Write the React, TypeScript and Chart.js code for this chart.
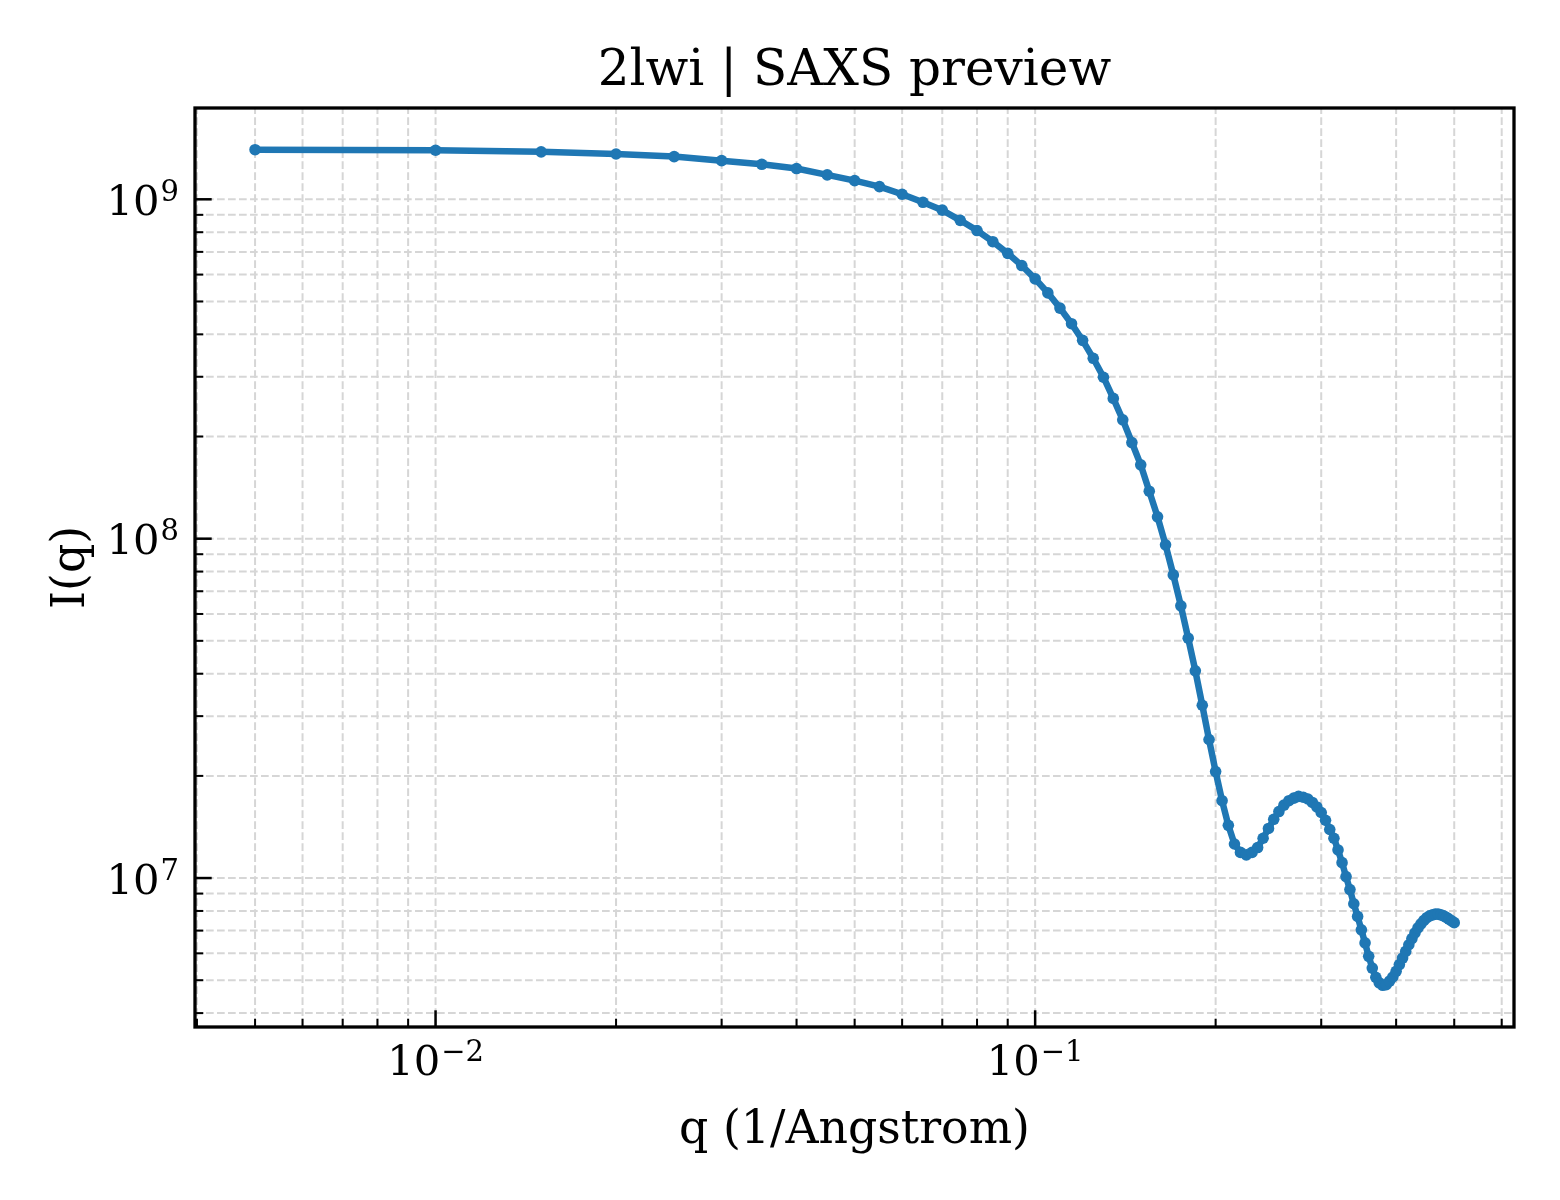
import React, { useEffect, useRef } from 'react';
import Chart from 'chart.js/auto';

// q values (1/Angstrom)
const qValues = [
	0.005, 0.01, 0.015, 0.02, 0.025, 0.03, 0.035, 0.04, 0.045, 0.05,
	0.055, 0.06, 0.065, 0.07, 0.075, 0.08, 0.085, 0.09, 0.095, 0.1,
	0.105, 0.11, 0.115, 0.12, 0.125, 0.13, 0.135, 0.14, 0.145, 0.15,
	0.155, 0.16, 0.165, 0.17, 0.175, 0.18, 0.185, 0.19, 0.195, 0.2,
	0.205, 0.21, 0.215, 0.22, 0.225, 0.23, 0.235, 0.24, 0.245, 0.25,
	0.255, 0.26, 0.265, 0.27, 0.275, 0.28, 0.285, 0.29, 0.295, 0.3,
	0.305, 0.31, 0.315, 0.32, 0.325, 0.33, 0.335, 0.34, 0.345, 0.35,
	0.355, 0.36, 0.365, 0.37, 0.375, 0.38, 0.385, 0.39, 0.395, 0.4,
	0.405, 0.41, 0.415, 0.42, 0.425, 0.43, 0.435, 0.44, 0.445, 0.45,
	0.455, 0.46, 0.465, 0.47, 0.475, 0.48, 0.485, 0.49, 0.495, 0.5
];

// I(q) intensities
const intensity = [
	1.40e9, 1.395e9, 1.38e9, 1.36e9, 1.336e9, 1.30e9, 1.268e9, 1.232e9, 1.18e9, 1.135e9,
	1.09e9, 1.035e9, 9.8e8, 9.29e8, 8.67e8, 8.09e8, 7.5e8, 6.93e8, 6.38e8, 5.83e8,
	5.3e8, 4.78e8, 4.3e8, 3.84e8, 3.4e8, 2.99e8, 2.59e8, 2.24e8, 1.92e8, 1.65e8,
	1.38e8, 1.16e8, 9.59e7, 7.82e7, 6.34e7, 5.09e7, 4.08e7, 3.23e7, 2.56e7, 2.06e7,
	1.69e7, 1.43e7, 1.26e7, 1.19e7, 1.17e7, 1.19e7, 1.23e7, 1.31e7, 1.40e7, 1.49e7,
	1.57e7, 1.64e7, 1.69e7, 1.72e7, 1.74e7, 1.73e7, 1.71e7, 1.67e7, 1.62e7, 1.56e7,
	1.48e7, 1.39e7, 1.31e7, 1.21e7, 1.11e7, 1.01e7, 9.25e6, 8.4e6, 7.71e6, 7.04e6,
	6.44e6, 5.88e6, 5.43e6, 5.1e6, 4.91e6, 4.83e6, 4.85e6, 4.97e6, 5.11e6, 5.31e6,
	5.56e6, 5.81e6, 6.08e6, 6.36e6, 6.63e6, 6.89e6, 7.13e6, 7.33e6, 7.5e6, 7.64e6,
	7.74e6, 7.79e6, 7.83e6, 7.83e6, 7.79e6, 7.74e6, 7.66e6, 7.57e6, 7.48e6, 7.39e6
];

// axis ticks
const xMajorTicks = [0.01, 0.1];
const xMajorExp = ['\u22122', '\u22121'];
const xMinorTicks = [
	0.004, 0.005, 0.006, 0.007, 0.008, 0.009,
	0.02, 0.03, 0.04, 0.05, 0.06, 0.07, 0.08, 0.09,
	0.2, 0.3, 0.4, 0.5, 0.6
];
const yMajorTicks = [1e7, 1e8, 1e9];
const yMajorExp = ['7', '8', '9'];
const yMinorTicks = [
	4e6, 5e6, 6e6, 7e6, 8e6, 9e6,
	2e7, 3e7, 4e7, 5e7, 6e7, 7e7, 8e7, 9e7,
	2e8, 3e8, 4e8, 5e8, 6e8, 7e8, 8e8, 9e8
];

const TITLE = '2lwi | SAXS preview';
const X_LABEL = 'q (1/Angstrom)';
const Y_LABEL = 'I(q)';

const SERIF = '"DejaVu Serif", serif';

// draws "10^exp" with left edge at x and main baseline at y
function drawPow(ctx: CanvasRenderingContext2D, x: number, y: number, exp: string) {
	ctx.font = `41.7px ${SERIF}`;
	ctx.textAlign = 'left';
	ctx.textBaseline = 'alphabetic';
	ctx.fillText('10', x, y);
	const w = ctx.measureText('10').width;
	ctx.font = `29px ${SERIF}`;
	ctx.fillText(exp, x + w + 1, y - 14);
}

function powWidth(ctx: CanvasRenderingContext2D, exp: string) {
	ctx.font = `41.7px ${SERIF}`;
	const w1 = ctx.measureText('10').width;
	ctx.font = `29px ${SERIF}`;
	const w2 = ctx.measureText(exp).width;
	return w1 + 1 + w2;
}

const mplAxes = {
	id: 'mplAxes',
	beforeDatasetsDraw(chart: any) {
		const { ctx, chartArea: a, scales } = chart;
		const xs = scales.x;
		const ys = scales.y;
		ctx.save();
		ctx.strokeStyle = '#d6d6d6';
		ctx.lineWidth = 2;
		ctx.setLineDash([7.7, 3.3]);
		[...xMajorTicks, ...xMinorTicks].forEach((v) => {
			const px = xs.getPixelForValue(v);
			if (px < a.left || px > a.right) return;
			ctx.beginPath();
			ctx.moveTo(px, a.bottom);
			ctx.lineTo(px, a.top);
			ctx.stroke();
		});
		[...yMajorTicks, ...yMinorTicks].forEach((v) => {
			const py = ys.getPixelForValue(v);
			if (py < a.top || py > a.bottom) return;
			ctx.beginPath();
			ctx.moveTo(a.left, py);
			ctx.lineTo(a.right, py);
			ctx.stroke();
		});
		ctx.restore();
	},
	afterDatasetsDraw(chart: any) {
		const { ctx, chartArea: a, scales } = chart;
		const xs = scales.x;
		const ys = scales.y;
		ctx.save();
		ctx.setLineDash([]);
		ctx.strokeStyle = '#000';

		// inward ticks, left and bottom
		ctx.lineWidth = 2.5;
		xMajorTicks.forEach((v) => {
			const px = xs.getPixelForValue(v);
			ctx.beginPath();
			ctx.moveTo(px, a.bottom);
			ctx.lineTo(px, a.bottom - 16.7);
			ctx.stroke();
		});
		yMajorTicks.forEach((v) => {
			const py = ys.getPixelForValue(v);
			ctx.beginPath();
			ctx.moveTo(a.left, py);
			ctx.lineTo(a.left + 16.7, py);
			ctx.stroke();
		});
		ctx.lineWidth = 2;
		xMinorTicks.forEach((v) => {
			const px = xs.getPixelForValue(v);
			if (px < a.left || px > a.right) return;
			ctx.beginPath();
			ctx.moveTo(px, a.bottom);
			ctx.lineTo(px, a.bottom - 8.3);
			ctx.stroke();
		});
		yMinorTicks.forEach((v) => {
			const py = ys.getPixelForValue(v);
			if (py < a.top || py > a.bottom) return;
			ctx.beginPath();
			ctx.moveTo(a.left, py);
			ctx.lineTo(a.left + 8.3, py);
			ctx.stroke();
		});

		// frame
		ctx.lineWidth = 3.3;
		ctx.strokeRect(a.left, a.top, a.right - a.left, a.bottom - a.top);

		// tick labels
		ctx.fillStyle = '#000';
		xMajorTicks.forEach((v, i) => {
			const px = xs.getPixelForValue(v);
			const w = powWidth(ctx, xMajorExp[i]);
			drawPow(ctx, px - w / 2, a.bottom + 48, xMajorExp[i]);
		});
		yMajorTicks.forEach((v, i) => {
			const py = ys.getPixelForValue(v);
			const w = powWidth(ctx, yMajorExp[i]);
			drawPow(ctx, a.left - 16 - w, py + 15.5, yMajorExp[i]);
		});

		// title and axis labels
		const cx = (a.left + a.right) / 2;
		ctx.textAlign = 'center';
		ctx.textBaseline = 'alphabetic';
		ctx.font = `50px ${SERIF}`;
		ctx.fillText(TITLE, cx, 85);
		ctx.font = `45.8px ${SERIF}`;
		ctx.fillText(X_LABEL, cx, 1143);
		ctx.save();
		ctx.translate(84, (a.top + a.bottom) / 2);
		ctx.rotate(-Math.PI / 2);
		ctx.fillText(Y_LABEL, 0, 0);
		ctx.restore();

		ctx.restore();
	}
};

export default function App() {
	const chartRef = useRef<HTMLCanvasElement>(null);
	const chartInstance = useRef<Chart | null>(null);

	useEffect(() => {
		if (chartInstance.current) {
			chartInstance.current.destroy();
		}
		if (!chartRef.current) return;
		const ctx = chartRef.current.getContext('2d');
		if (!ctx) return;

		chartInstance.current = new Chart(ctx, {
			type: 'scatter',
			data: {
				datasets: [
					{
						label: 'I(q)',
						data: qValues.map((q, i) => ({ x: q, y: intensity[i] })),
						showLine: true,
						borderColor: '#1f77b4',
						backgroundColor: '#1f77b4',
						borderWidth: 6.5,
						pointRadius: 5.8,
						pointBorderWidth: 0,
						pointHoverRadius: 5.8,
						tension: 0
					}
				]
			},
			options: {
				responsive: false,
				animation: false,
				devicePixelRatio: 1,
				layout: {
					padding: { left: 195, top: 108, right: 46, bottom: 173 }
				},
				plugins: {
					legend: { display: false },
					tooltip: { enabled: false },
					title: { display: false }
				},
				scales: {
					x: {
						type: 'logarithmic',
						display: false,
						min: 0.00397,
						max: 0.629
					},
					y: {
						type: 'logarithmic',
						display: false,
						min: 3.64e6,
						max: 1.858e9
					}
				}
			},
			plugins: [mplAxes]
		});

		return () => {
			if (chartInstance.current) {
				chartInstance.current.destroy();
			}
		};
	}, []);

	return (
		<div style={{ position: 'absolute', left: 0, top: 0, width: '1560px', height: '1200px', background: '#fff' }}>
			<canvas ref={chartRef} width={1560} height={1200}></canvas>
		</div>
	);
}
